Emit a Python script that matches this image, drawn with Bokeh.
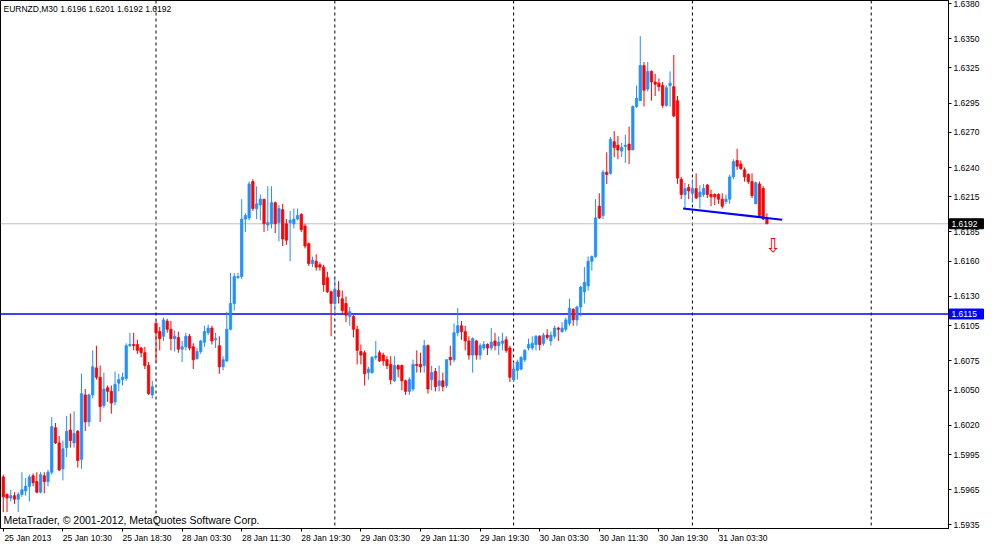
from bokeh.plotting import figure
from bokeh.models import (Range1d, FixedTicker, NumeralTickFormatter, Span, Label,
                          ColumnDataSource, LinearAxis, GridBox)
from bokeh.embed import file_html
from bokeh.resources import INLINE
from bokeh.core.properties import value

# ---------------- data ----------------
symbol_caption = "EURNZD,M30  1.6196 1.6201 1.6192 1.6192"
copyright_text = "MetaTrader, \u00a9 2001-2012, MetaQuotes Software Corp."

opens = [
    1.5976, 1.5961, 1.5958, 1.5960, 1.5957, 1.5961, 1.5964, 1.5968, 1.5977, 1.5972,
    1.5963, 1.5977, 1.5972, 1.5980, 1.6018, 1.6005, 1.5983, 1.6001, 1.6016, 1.6005,
    1.6015, 1.5991, 1.6046, 1.6023, 1.6046, 1.6069, 1.6061, 1.6037, 1.6052, 1.6049,
    1.6040, 1.6056, 1.6059, 1.6060, 1.6088, 1.6089, 1.6089, 1.6086, 1.6082, 1.6071,
    1.6046, 1.6107, 1.6100, 1.6096, 1.6109, 1.6102, 1.6094, 1.6095, 1.6085, 1.6087,
    1.6096, 1.6087, 1.6077, 1.6083, 1.6091, 1.6099, 1.6103, 1.6093, 1.6088, 1.6070,
    1.6075, 1.6102, 1.6124, 1.6146, 1.6147, 1.6196, 1.6197, 1.6228, 1.6205, 1.6208,
    1.6213, 1.6191, 1.6192, 1.6210, 1.6193, 1.6204, 1.6192, 1.6193, 1.6192, 1.6196,
    1.6200, 1.6190, 1.6175, 1.6158, 1.6160, 1.6157, 1.6155, 1.6146, 1.6134, 1.6124,
    1.6135, 1.6128, 1.6124, 1.6113, 1.6113, 1.6102, 1.6083, 1.6082, 1.6065, 1.6065,
    1.6078, 1.6082, 1.6080, 1.6076, 1.6072, 1.6058, 1.6071, 1.6071, 1.6058, 1.6049,
    1.6051, 1.6072, 1.6072, 1.6071, 1.6088, 1.6059, 1.6066, 1.6054, 1.6058, 1.6054,
    1.6078, 1.6076, 1.6099, 1.6105, 1.6100, 1.6092, 1.6080, 1.6092, 1.6080, 1.6086,
    1.6089, 1.6086, 1.6092, 1.6088, 1.6090, 1.6093, 1.6086, 1.6059, 1.6067, 1.6068,
    1.6076, 1.6086, 1.6086, 1.6089, 1.6096, 1.6090, 1.6097, 1.6092, 1.6096, 1.6103,
    1.6100, 1.6102, 1.6107, 1.6119, 1.6110, 1.6121, 1.6134, 1.6139, 1.6160, 1.6164,
    1.6207, 1.6199, 1.6236, 1.6235, 1.6262, 1.6259, 1.6254, 1.6258, 1.6260, 1.6255,
    1.6292, 1.6297, 1.6327, 1.6307, 1.6322, 1.6313, 1.6312, 1.6310, 1.6293, 1.6310,
    1.6309, 1.6297, 1.6230, 1.6217, 1.6223, 1.6218, 1.6222, 1.6215, 1.6217, 1.6225,
    1.6217, 1.6217, 1.6217, 1.6213, 1.6211, 1.6213, 1.6232, 1.6246, 1.6243, 1.6238,
    1.6234, 1.6228, 1.6209, 1.6226, 1.6222, 1.6196,
]
highs = [
    1.5978, 1.5962, 1.5965, 1.5963, 1.5963, 1.5980, 1.5975, 1.5978, 1.5979, 1.5980,
    1.5980, 1.5980, 1.5982, 1.6027, 1.6022, 1.6011, 1.6007, 1.6028, 1.6030, 1.6032,
    1.6016, 1.6064, 1.6051, 1.6047, 1.6084, 1.6088, 1.6071, 1.6065, 1.6054, 1.6054,
    1.6066, 1.6064, 1.6065, 1.6090, 1.6099, 1.6099, 1.6093, 1.6087, 1.6087, 1.6074,
    1.6058, 1.6109, 1.6104, 1.6112, 1.6111, 1.6109, 1.6101, 1.6100, 1.6092, 1.6099,
    1.6098, 1.6090, 1.6086, 1.6093, 1.6105, 1.6106, 1.6105, 1.6099, 1.6096, 1.6079,
    1.6117, 1.6150, 1.6150, 1.6150, 1.6213, 1.6201, 1.6228, 1.6230, 1.6224, 1.6217,
    1.6213, 1.6224, 1.6224, 1.6211, 1.6208, 1.6209, 1.6196, 1.6203, 1.6205, 1.6205,
    1.6201, 1.6192, 1.6176, 1.6164, 1.6166, 1.6159, 1.6157, 1.6151, 1.6135, 1.6145,
    1.6143, 1.6135, 1.6130, 1.6121, 1.6114, 1.6105, 1.6089, 1.6084, 1.6070, 1.6079,
    1.6092, 1.6084, 1.6082, 1.6079, 1.6079, 1.6079, 1.6072, 1.6072, 1.6059, 1.6061,
    1.6076, 1.6084, 1.6082, 1.6093, 1.6089, 1.6071, 1.6069, 1.6071, 1.6065, 1.6076,
    1.6088, 1.6107, 1.6120, 1.6109, 1.6105, 1.6096, 1.6095, 1.6093, 1.6090, 1.6092,
    1.6090, 1.6103, 1.6099, 1.6096, 1.6099, 1.6096, 1.6088, 1.6074, 1.6076, 1.6079,
    1.6085, 1.6094, 1.6096, 1.6097, 1.6097, 1.6099, 1.6102, 1.6100, 1.6105, 1.6104,
    1.6108, 1.6112, 1.6128, 1.6120, 1.6122, 1.6139, 1.6155, 1.6164, 1.6165, 1.6213,
    1.6218, 1.6238, 1.6253, 1.6266, 1.6271, 1.6267, 1.6261, 1.6268, 1.6275, 1.6293,
    1.6310, 1.6352, 1.6330, 1.6330, 1.6323, 1.6320, 1.6316, 1.6313, 1.6310, 1.6322,
    1.6336, 1.6301, 1.6232, 1.6227, 1.6226, 1.6230, 1.6235, 1.6225, 1.6226, 1.6226,
    1.6221, 1.6218, 1.6218, 1.6218, 1.6217, 1.6234, 1.6247, 1.6256, 1.6246, 1.6240,
    1.6235, 1.6235, 1.6228, 1.6228, 1.6224, 1.6201,
]
lows = [
    1.5946, 1.5946, 1.5955, 1.5953, 1.5946, 1.5959, 1.5960, 1.5955, 1.5968, 1.5962,
    1.5962, 1.5962, 1.5968, 1.5978, 1.6004, 1.5981, 1.5973, 1.5993, 1.6001, 1.6001,
    1.5984, 1.5983, 1.6015, 1.6019, 1.6043, 1.6059, 1.6023, 1.6035, 1.6040, 1.6030,
    1.6037, 1.6049, 1.6054, 1.6058, 1.6087, 1.6084, 1.6081, 1.6078, 1.6068, 1.6046,
    1.6043, 1.6074, 1.6084, 1.6092, 1.6099, 1.6084, 1.6083, 1.6082, 1.6074, 1.6084,
    1.6084, 1.6068, 1.6076, 1.6081, 1.6087, 1.6097, 1.6089, 1.6086, 1.6064, 1.6067,
    1.6074, 1.6101, 1.6118, 1.6145, 1.6145, 1.6185, 1.6195, 1.6203, 1.6196, 1.6195,
    1.6185, 1.6186, 1.6188, 1.6184, 1.6177, 1.6173, 1.6174, 1.6160, 1.6188, 1.6195,
    1.6185, 1.6171, 1.6156, 1.6155, 1.6152, 1.6152, 1.6134, 1.6133, 1.6096, 1.6115,
    1.6124, 1.6115, 1.6108, 1.6105, 1.6095, 1.6072, 1.6072, 1.6054, 1.6059, 1.6064,
    1.6076, 1.6074, 1.6071, 1.6068, 1.6055, 1.6057, 1.6061, 1.6050, 1.6046, 1.6046,
    1.6049, 1.6065, 1.6065, 1.6065, 1.6047, 1.6050, 1.6049, 1.6049, 1.6049, 1.6052,
    1.6071, 1.6074, 1.6096, 1.6093, 1.6084, 1.6076, 1.6065, 1.6076, 1.6076, 1.6084,
    1.6080, 1.6084, 1.6084, 1.6080, 1.6084, 1.6082, 1.6057, 1.6057, 1.6059, 1.6067,
    1.6074, 1.6084, 1.6084, 1.6084, 1.6084, 1.6088, 1.6093, 1.6088, 1.6094, 1.6092,
    1.6099, 1.6100, 1.6105, 1.6105, 1.6105, 1.6113, 1.6124, 1.6135, 1.6152, 1.6163,
    1.6196, 1.6196, 1.6226, 1.6234, 1.6249, 1.6247, 1.6249, 1.6244, 1.6243, 1.6255,
    1.6291, 1.6297, 1.6292, 1.6305, 1.6297, 1.6301, 1.6305, 1.6291, 1.6292, 1.6292,
    1.6283, 1.6226, 1.6213, 1.6205, 1.6213, 1.6210, 1.6213, 1.6205, 1.6215, 1.6214,
    1.6207, 1.6208, 1.6209, 1.6205, 1.6209, 1.6209, 1.6230, 1.6238, 1.6238, 1.6228,
    1.6226, 1.6214, 1.6209, 1.6197, 1.6195, 1.6192,
]
closes = [
    1.5959, 1.5958, 1.5960, 1.5957, 1.5961, 1.5965, 1.5968, 1.5976, 1.5971, 1.5963,
    1.5978, 1.5972, 1.5980, 1.6019, 1.6005, 1.5982, 1.6000, 1.6015, 1.6007, 1.6013,
    1.5990, 1.6047, 1.6023, 1.6046, 1.6070, 1.6061, 1.6036, 1.6051, 1.6049, 1.6039,
    1.6055, 1.6059, 1.6061, 1.6088, 1.6089, 1.6088, 1.6084, 1.6082, 1.6071, 1.6047,
    1.6053, 1.6099, 1.6094, 1.6110, 1.6102, 1.6094, 1.6096, 1.6085, 1.6087, 1.6096,
    1.6086, 1.6076, 1.6083, 1.6092, 1.6100, 1.6103, 1.6092, 1.6094, 1.6070, 1.6076,
    1.6102, 1.6124, 1.6147, 1.6147, 1.6196, 1.6199, 1.6226, 1.6205, 1.6209, 1.6213,
    1.6192, 1.6193, 1.6210, 1.6192, 1.6205, 1.6179, 1.6178, 1.6195, 1.6196, 1.6199,
    1.6187, 1.6173, 1.6158, 1.6161, 1.6155, 1.6155, 1.6140, 1.6134, 1.6124, 1.6136,
    1.6130, 1.6118, 1.6114, 1.6117, 1.6102, 1.6084, 1.6080, 1.6064, 1.6068, 1.6078,
    1.6079, 1.6075, 1.6075, 1.6071, 1.6059, 1.6071, 1.6068, 1.6058, 1.6049, 1.6059,
    1.6072, 1.6071, 1.6070, 1.6088, 1.6051, 1.6065, 1.6053, 1.6058, 1.6053, 1.6076,
    1.6076, 1.6099, 1.6105, 1.6100, 1.6092, 1.6080, 1.6094, 1.6080, 1.6088, 1.6089,
    1.6086, 1.6091, 1.6088, 1.6091, 1.6092, 1.6084, 1.6061, 1.6068, 1.6074, 1.6078,
    1.6084, 1.6089, 1.6090, 1.6096, 1.6089, 1.6097, 1.6095, 1.6097, 1.6103, 1.6102,
    1.6103, 1.6110, 1.6120, 1.6110, 1.6121, 1.6138, 1.6142, 1.6160, 1.6164, 1.6197,
    1.6197, 1.6236, 1.6234, 1.6264, 1.6257, 1.6255, 1.6257, 1.6259, 1.6255, 1.6292,
    1.6299, 1.6327, 1.6306, 1.6322, 1.6313, 1.6311, 1.6309, 1.6293, 1.6308, 1.6312,
    1.6284, 1.6231, 1.6217, 1.6222, 1.6220, 1.6222, 1.6214, 1.6219, 1.6222, 1.6217,
    1.6215, 1.6215, 1.6213, 1.6207, 1.6213, 1.6232, 1.6245, 1.6241, 1.6239, 1.6232,
    1.6228, 1.6216, 1.6227, 1.6199, 1.6196, 1.6192,
]

time_tick_bars = [0, 16, 32, 48, 64, 80, 96, 112, 128, 144, 160, 176, 192]
time_tick_labels = [
    "25 Jan 2013", "25 Jan 10:30", "25 Jan 18:30", "28 Jan 03:30", "28 Jan 11:30",
    "28 Jan 19:30", "29 Jan 03:30", "29 Jan 11:30", "29 Jan 19:30", "30 Jan 03:30",
    "30 Jan 11:30", "30 Jan 19:30", "31 Jan 03:30",
]
price_ticks = [1.6380, 1.6350, 1.6325, 1.6295, 1.6270, 1.6240, 1.6215, 1.6185, 1.6160,
               1.6130, 1.6105, 1.6075, 1.6050, 1.6020, 1.5995, 1.5965, 1.5935]
day_separator_bars = [41, 89, 137, 185, 233]
bid_price = 1.6192
level_price = 1.6115
tag_prices = [bid_price, level_price]
tag_colors = ["#000000", "#0000FF"]
trend_bars = [182.5, 209.1]
trend_prices = [1.6205, 1.61955]
arrow_bar = [206.6]
arrow_price = [1.6183]

# ---------------- style / layout ----------------
BULL = "#1E90FF"
BEAR = "#FF0000"
FONT = "Liberation Sans"
FRAME_W, FRAME_H = 948, 528
AXIS_W, BOTTOM_H = 36, 16
BAR_PX = 3.725
X_START = -0.75
X_END = X_START + FRAME_W / BAR_PX
Y_BOTTOM, Y_TOP = 1.59320, 1.63825
LABEL_SHIFT = 24.5 / BAR_PX   # half a label width, in bars

bars = list(range(len(opens)))
src = ColumnDataSource(dict(
    x=bars, o=opens, h=highs, l=lows, c=closes,
    top=[max(o, c) for o, c in zip(opens, closes)],
    bottom=[min(o, c) for o, c in zip(opens, closes)],
    color=[BULL if c >= o else BEAR for o, c in zip(opens, closes)],
))

p = figure(frame_width=FRAME_W, frame_height=FRAME_H, output_backend="svg",
           toolbar_location=None,
           x_range=Range1d(X_START, X_END), y_range=Range1d(Y_BOTTOM, Y_TOP),
           y_axis_location="right", x_axis_location="below",
           min_border_left=0, min_border_top=0, min_border_right=AXIS_W,
           min_border_bottom=BOTTOM_H,
           background_fill_color="white", border_fill_color="white")
p.frame_align = False
p.grid.visible = False
p.outline_line_color = "black"
p.outline_line_width = 1

for b in day_separator_bars:
    p.add_layout(Span(location=b, dimension="height", line_color="black",
                      line_dash="3 3", line_width=1, level="underlay"))
p.add_layout(Span(location=bid_price, dimension="width", line_color="#C0C0C0",
                  line_width=1, level="underlay"))
p.add_layout(Span(location=level_price, dimension="width", line_color="#0000FF",
                  line_width=1.6, level="underlay"))

p.segment(x0="x", y0="h", x1="x", y1="l", line_color="color", line_width=1, source=src)
p.vbar(x="x", top="top", bottom="bottom", width=0.62, fill_color="color",
       line_color="color", line_width=0.8, source=src)

p.line(trend_bars, trend_prices, line_color="#0000FF", line_width=2)
p.text(x=arrow_bar, y=arrow_price, text=["\u21e9"], text_color="#FF0000",
       text_font=value("DejaVu Sans"), text_font_size="19px",
       text_align="center", text_baseline="top")

# price axis (right)
yax = p.yaxis[0]
yax.ticker = FixedTicker(ticks=price_ticks)
yax.formatter = NumeralTickFormatter(format="0.0000")
yax.major_tick_in = 0
yax.major_tick_out = 3
yax.minor_tick_line_color = None
yax.major_label_standoff = 2
yax.axis_label_standoff = 0
yax.major_label_text_font = FONT
yax.major_label_text_font_size = "8.5px"
yax.major_label_text_color = "black"
yax.axis_line_color = "black"
yax.major_tick_line_color = "black"

# time axis: tick marks at the bars ...
xax = p.xaxis[0]
xax.ticker = FixedTicker(ticks=time_tick_bars)
xax.major_label_overrides = {b: "" for b in time_tick_bars}
xax.major_label_text_font_size = "0px"
xax.major_tick_in = 0
xax.major_tick_out = 3
xax.minor_tick_line_color = None
xax.major_label_standoff = 0
xax.axis_label_standoff = 0
xax.axis_line_color = "black"
xax.major_tick_line_color = "black"

# ... and labels that start at the tick (MetaTrader style)
p.extra_x_ranges = {"time_labels": Range1d(X_START - LABEL_SHIFT, X_END - LABEL_SHIFT)}
lab_axis = LinearAxis(x_range_name="time_labels", ticker=FixedTicker(ticks=time_tick_bars),
                      major_label_overrides=dict(zip(time_tick_bars, time_tick_labels)),
                      major_tick_line_color=None, minor_tick_line_color=None,
                      axis_line_color=None, major_tick_in=0, major_tick_out=0,
                      major_label_standoff=1, axis_label_standoff=0,
                      major_label_text_font=FONT,
                      major_label_text_font_size="8.5px", major_label_text_color="black")
p.add_layout(lab_axis, "below")

p.add_layout(Label(x=X_START, y=Y_TOP, x_offset=3, y_offset=-3, text=symbol_caption,
                   text_align="left", text_baseline="top", text_font=FONT,
                   text_font_size="8.5px", text_color="black"))
p.add_layout(Label(x=X_START, y=Y_BOTTOM, x_offset=3, y_offset=3, text=copyright_text,
                   text_align="left", text_baseline="bottom", text_font=FONT,
                   text_font_size="10.5px", text_color="black"))

# transparent overlay whose frame covers the price-axis strip, for the price tags
tags = figure(frame_width=AXIS_W, frame_height=FRAME_H, output_backend="svg",
              toolbar_location=None, x_range=Range1d(0, AXIS_W), y_range=p.y_range,
              x_axis_location=None, y_axis_location=None,
              min_border_left=FRAME_W, min_border_right=0, min_border_top=0,
              min_border_bottom=BOTTOM_H,
              background_fill_color=None, border_fill_color=None, outline_line_color=None)
tags.frame_align = False
tags.grid.visible = False
tag_src = ColumnDataSource(dict(y=tag_prices, color=tag_colors,
                                text=[f"{v:.4f}" for v in tag_prices]))
tags.rect(x=18, y="y", width=34, height=10, width_units="screen", height_units="screen",
          fill_color="color", line_color="color", source=tag_src)
tags.text(x=3, y="y", text="text", text_color="white", text_font=value(FONT),
          text_font_size="8.5px", text_align="left", text_baseline="middle", source=tag_src)

layout = GridBox(children=[(p, 0, 0), (tags, 0, 0)])
open("out.html", "w").write(file_html(layout, INLINE))
